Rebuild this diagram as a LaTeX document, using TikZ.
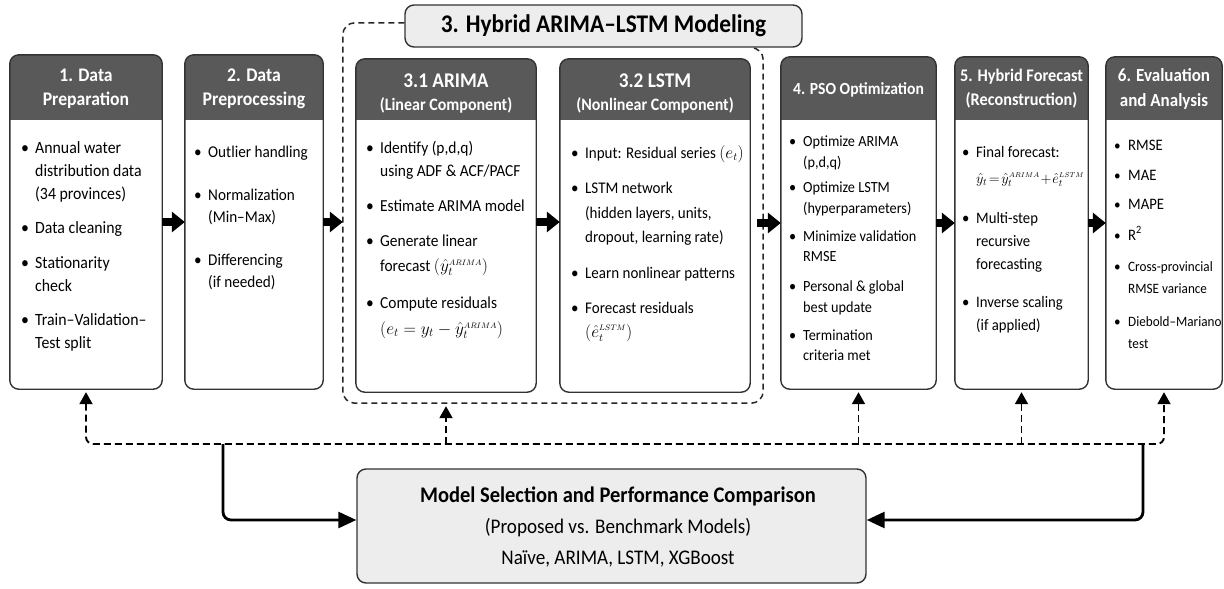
\documentclass[tikz,border=0pt]{standalone}
\usepackage{fontspec}
\setmainfont{Carlito}[FakeStretch=0.92]
\usetikzlibrary{arrows.meta,fit}
\definecolor{hdr}{HTML}{595959}
\definecolor{edge}{HTML}{333333}
\definecolor{panel}{HTML}{EDEDED}
\newcommand\fs[2]{\fontsize{#1}{#2}\selectfont}
\newcommand\bul{\makebox[14pt][l]{\textbullet}}
\newcommand\ssup[1]{^{\scriptscriptstyle #1}}
\newcommand\mkcard[6]{%
  \node[cardbody, fit={(#2,#3) (#4,#5)}] (#1) {};
  \begin{scope}
    \clip[rounded corners=9pt] (#1.north west) rectangle (#1.south east);
    \fill[hdr] (#1.north west) rectangle (#1.east |- 0,#6);
  \end{scope}
  \draw[cardedge] (#1.north west) rectangle (#1.south east);
}
\begin{document}
\begin{tikzpicture}[x=1pt, y=-1pt,
 cardbody/.style={fill=white, inner sep=0pt, rounded corners=9pt},
 cardedge/.style={draw=edge, line width=1.4pt, rounded corners=9pt},
 hdrtxt/.style={text=white, align=center, inner sep=0pt},
 bodytxt/.style={anchor=north west, inner sep=0pt, align=left},
 flow/.style={draw=black, line width=8.5pt, -{Triangle[length=13pt,width=20pt]}},
 fb/.style={draw=black, line width=1.9pt, dash pattern=on 7pt off 4pt, rounded corners=7pt, -{Triangle[length=12pt,width=13pt]}, shorten >=3pt},
 sel/.style={draw=black, line width=2.8pt, rounded corners=8pt, -{Triangle[length=18pt,width=16pt]}},
 grpline/.style={draw=black!85, line width=1.5pt, dash pattern=on 6pt off 4pt, rounded corners=12pt},
 panelbox/.style={draw=edge, fill=panel, line width=1.4pt, rounded corners=9pt}]
\useasboundingbox (0,0) rectangle (1224,589);

% group container and title
\node[inner sep=0pt, fit={(343,23) (763,403)}] (grp) {};
\node[panelbox, minimum width=397pt, minimum height=42pt, font=\bfseries\fs{25.4}{30}] (ttl) at (603.5,26) {3. Hybrid ARIMA–LSTM Modeling};
\draw[grpline] (ttl.west |- grp.north) -- (grp.north west) -- (grp.south west) -- (grp.south east) -- (grp.east |- ttl.south) -- ([xshift=-12pt]grp.east |- ttl.south);

% cards
\mkcard{b1}{10}{55}{162}{389}{120}
\mkcard{b2}{185}{55}{323}{389}{120}
\mkcard{a31}{356}{59}{536}{392}{120}
\mkcard{a32}{560}{59}{750}{392}{120}
\mkcard{b4}{781}{57}{936}{389}{120}
\mkcard{b5}{955}{57}{1088}{389}{120}
\mkcard{b6}{1106}{57}{1222}{389}{120}

% headers
\node[hdrtxt, font=\bfseries\fs{19.2}{24}] (h1) at (86,89) {1. Data\\Preparation};
\node[hdrtxt, font=\bfseries\fs{19.3}{24}] (h2) at (254,89) {2. Data\\Preprocessing};
\node[hdrtxt, font=\bfseries\fs{20.9}{24}] (h31a) at (446,81) {3.1 ARIMA};
\node[hdrtxt, font=\bfseries\fs{17.4}{24}] (h31b) at (446,105) {(Linear Component)};
\node[hdrtxt, font=\bfseries\fs{20.9}{24}] (h32a) at (655,81) {3.2 LSTM};
\node[hdrtxt, font=\bfseries\fs{17.4}{24}] (h32b) at (655,105) {(Nonlinear Component)};
\node[hdrtxt, font=\bfseries\fs{17}{22}] (h4) at (858.5,90) {4. PSO Optimization};
\node[hdrtxt, font=\bfseries\fs{17.7}{24}] (h5) at (1021.5,89) {5. Hybrid Forecast\\(Reconstruction)};
\node[hdrtxt, font=\bfseries\fs{18.5}{25}] (h6) at (1164,89) {6. Evaluation\\and Analysis};

% bodies
\node[bodytxt, font=\fs{17.2}{23}] (t1) at (21,137) {\begin{tabular}{@{}l@{}l@{}}
\bul & Annual water\\ & distribution data\\ & (34 provinces)\\[11.5pt]
\bul & Data cleaning\\[11.5pt]
\bul & Stationarity\\ & check\\[11.5pt]
\bul & Train–Validation–\\ & Test split
\end{tabular}};
\node[bodytxt, font=\fs{16.5}{22}] (t2) at (194,141.6) {\begin{tabular}{@{}l@{}l@{}}
\bul & Outlier handling\\[21pt]
\bul & Normalization\\ & (Min–Max)\\[21pt]
\bul & Differencing\\ & (if needed)
\end{tabular}};
\node[bodytxt, font=\fs{16.8}{23}] (t31) at (366,137) {\begin{tabular}{@{}l@{}l@{}}
\bul & Identify (p,d,q)\\ & using ADF \& ACF/PACF\\[12pt]
\bul & Estimate ARIMA model\\[12pt]
\bul & Generate linear\\[2pt] & forecast $(\hat{y}_t\ssup{ARIMA})$\\[14pt]
\bul & Compute residuals\\[3pt] & $(e_t = y_t - \hat{y}_t\ssup{ARIMA})$
\end{tabular}};
\node[bodytxt, font=\fs{16.3}{24}] (t32) at (571,141) {\begin{tabular}{@{}l@{}l@{}}
\bul & Input: Residual series $(e_t)$\\[11pt]
\bul & LSTM network\\[1pt] & (hidden layers, units,\\ & dropout, learning rate)\\[12pt]
\bul & Learn nonlinear patterns\\[11pt]
\bul & Forecast residuals\\ & $(\hat{e}_t\ssup{LSTM})$
\end{tabular}};
\node[bodytxt, font=\fs{15.5}{21}] (t4) at (789,132) {\begin{tabular}{@{}l@{}l@{}}
\bul & Optimize ARIMA\\ & (p,d,q)\\[4pt]
\bul & Optimize LSTM\\ & (hyperparameters)\\[7pt]
\bul & Minimize validation\\[-1pt] & RMSE\\[9pt]
\bul & Personal \& global\\ & best update\\[7pt]
\bul & Termination\\[-1pt] & criteria met
\end{tabular}};
\node[bodytxt, font=\fs{16}{23}] (t5) at (962,140.7) {\begin{tabular}{@{}l@{}l@{}}
\bul & Final forecast:\\[3pt]
 & {\fs{14.4}{23}$\hat{y}_t \mkern-3mu=\mkern-3mu \hat{y}_t\ssup{ARIMA} \mkern-3mu+\mkern-3mu \hat{e}_t\ssup{LSTM}$}\\[17pt]
\bul & Multi-step\\ & recursive\\ & forecasting\\[15pt]
\bul & Inverse scaling\\ & (if applied)
\end{tabular}};
\node[bodytxt, font=\fs{14.3}{22}] (t6) at (1114,134.5) {\begin{tabular}{@{}l@{}l@{}}
\bul & {\fs{16}{22}RMSE}\\[8pt]
\bul & {\fs{16}{22}MAE}\\[7pt]
\bul & {\fs{16}{22}MAPE}\\[9pt]
\bul & {\fs{16}{22}R\textsuperscript{2}}\\[9pt]
\bul & Cross-provincial\\ & RMSE variance\\[11pt]
\bul & Diebold–Mariano\\ & test
\end{tabular}};

% main flow arrows
\draw[flow] (b1.east) -- (b2.west);
\draw[flow] (b2.east) -- (b2.east -| grp.west);
\draw[flow] (a31.east |- b1.east) -- (a32.west |- b1.east);
\draw[flow] ([xshift=-6pt]grp.east |- b4.west) -- (b4.west);
\draw[flow] (b4.east) -- (b5.west);
\draw[flow] (b5.east) -- (b6.west);

% model selection box
\node[panelbox, minimum width=509pt, minimum height=114pt] (ms) at (611.5,526) {};
\node[align=center, inner sep=0pt, font=\fs{20.8}{31}] (mst) at (618,527)
 {{\bfseries\fs{22.3}{31}Model Selection and Performance Comparison}\\(Proposed vs. Benchmark Models)\\Naïve, ARIMA, LSTM, XGBoost};

% feedback bus
\coordinate (busL) at (b1.south |- 0,444);
\coordinate (busR) at (b6.south |- 0,444);
\draw[fb, {Triangle[length=12pt,width=13pt]}-{Triangle[length=12pt,width=13pt]}, shorten <=3pt] (b1.south) -- (busL) -- (busR) -- (b6.south);
\draw[fb] (a31.south |- busL) -- (a31.south |- grp.south);
\draw[fb] (b4.south |- busL) -- (b4.south);
\draw[fb] (b5.south |- busL) -- (b5.south);

% selection arrows
\coordinate (jl) at (223,444);
\coordinate (jr) at (1143,444);
\draw[sel] (jl) |- ([yshift=6pt]ms.west);
\draw[sel] (jr) |- ([yshift=6pt]ms.east);
\end{tikzpicture}
\end{document}
